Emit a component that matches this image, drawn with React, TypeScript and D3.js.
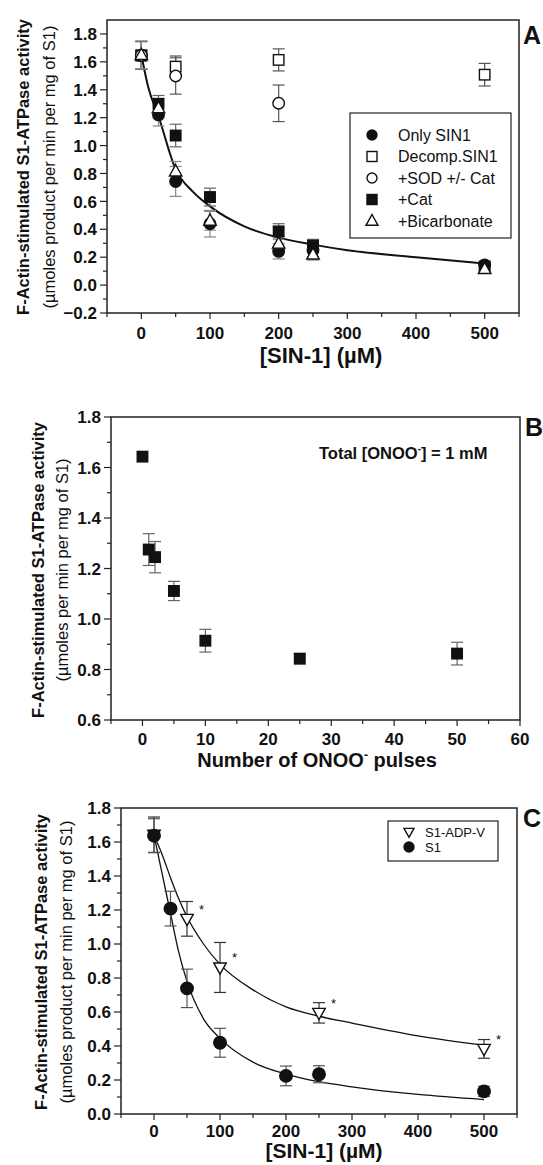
import React from "react";
import * as d3 from "d3";

// ---- panel A : SIN-1 dose response, five conditions ----
const doseA = [0, 25, 50, 100, 200, 250, 500];
const onlySin1 = [1.646, 1.22, 0.743, 0.44, 0.242, 0.25, 0.145];
const onlySin1Err = [0.1, 0.08, 0.107, 0.095, 0.055, 0.045, 0.03];
const decompDose = [0, 50, 200, 500];
const decompSin1 = [1.646, 1.566, 1.614, 1.508];
const decompErr = [0.1, 0.076, 0.079, 0.081];
const sodDose = [0, 50, 200];
const sodCat = [1.646, 1.499, 1.303];
const sodErr = [0.1, 0.13, 0.131];
const catOnly = [1.646, 1.299, 1.072, 0.631, 0.385, 0.283, 0.13];
const catErr = [0.1, 0.06, 0.081, 0.064, 0.055, 0.045, 0.03];
const bicarb = [1.649, 1.268, 0.814, 0.461, 0.297, 0.219, 0.115];
const bicarbErr = [0.1, 0.07, 0.072, 0.067, 0.05, 0.04, 0.03];
// fitted curve
const fitADose = [0, 10, 25, 50, 75, 100, 150, 200, 250, 300, 400, 500];
const fitA = [1.649, 1.42, 1.21, 0.83, 0.67, 0.564, 0.421, 0.34, 0.29, 0.25, 0.2, 0.155];
const legendA = ["Only SIN1", "Decomp.SIN1", "+SOD +/- Cat", "+Cat", "+Bicarbonate"];
const xTicksA = [0, 100, 200, 300, 400, 500];
const yTicksA = [-0.2, 0, 0.2, 0.4, 0.6, 0.8, 1.0, 1.2, 1.4, 1.6, 1.8];

// ---- panel B : number of ONOO- pulses ----
const pulses = [0, 1, 2, 5, 10, 25, 50];
const pulseAct = [1.643, 1.275, 1.245, 1.111, 0.914, 0.843, 0.863];
const pulseErr = [0, 0.063, 0.062, 0.038, 0.045, 0.02, 0.045];
const xTicksB = [0, 10, 20, 30, 40, 50, 60];
const yTicksB = [0.6, 0.8, 1.0, 1.2, 1.4, 1.6, 1.8];

// ---- panel C : S1 vs S1-ADP-V ----
const doseC = [0, 25, 50, 100, 200, 250, 500];
const s1 = [1.637, 1.208, 0.739, 0.419, 0.224, 0.234, 0.133];
const s1Err = [0.1, 0.102, 0.113, 0.085, 0.058, 0.05, 0.03];
const adpDose = [0, 50, 100, 250, 500];
const adpV = [1.643, 1.148, 0.862, 0.595, 0.383];
const adpErr = [0.104, 0.102, 0.147, 0.06, 0.055];
const fitCDose = [0, 12, 25, 37, 50, 75, 100, 150, 200, 250, 300, 400, 500];
const fitS1 = [1.64, 1.42, 1.18, 0.96, 0.78, 0.56, 0.445, 0.305, 0.235, 0.19, 0.16, 0.115, 0.085];
const fitAdp = [1.64, 1.53, 1.39, 1.27, 1.16, 1.0, 0.88, 0.73, 0.63, 0.575, 0.535, 0.46, 0.405];
const legendC = ["S1-ADP-V", "S1"];
const yTicksC = [0, 0.2, 0.4, 0.6, 0.8, 1.0, 1.2, 1.4, 1.6, 1.8];

const FONT = "'Liberation Sans', Arial, sans-serif";
const INK = "#111";

type Shape = "circle" | "square" | "triangle" | "tridown";

const Marker = ({ shape, x, y, s, fill }: { shape: Shape; x: number; y: number; s: number; fill: boolean }) => {
  const f = fill ? INK : "#fff";
  const st = { fill: f, stroke: INK, strokeWidth: 1.4 };
  if (shape === "circle") return <circle cx={x} cy={y} r={s / 2} {...st} />;
  if (shape === "square") return <rect x={x - s / 2} y={y - s / 2} width={s} height={s} {...st} />;
  const h = s * 0.9;
  if (shape === "triangle")
    return <path d={`M${x},${y - h * 0.6}L${x + s / 2},${y + h * 0.4}L${x - s / 2},${y + h * 0.4}Z`} {...st} />;
  return <path d={`M${x},${y + h * 0.6}L${x + s / 2},${y - h * 0.4}L${x - s / 2},${y - h * 0.4}Z`} {...st} />;
};

const ErrBar = ({ x, y0, y1, cap, color }: { x: number; y0: number; y1: number; cap: number; color: string }) => (
  <g stroke={color} strokeWidth={1.2}>
    <line x1={x} x2={x} y1={y0} y2={y1} />
    <line x1={x - cap} x2={x + cap} y1={y0} y2={y0} />
    <line x1={x - cap} x2={x + cap} y1={y1} y2={y1} />
  </g>
);

type Frame = { left: number; right: number; top: number; bottom: number };

// frame, ticks, tick labels
const Axes = ({
  fr, x, y, xTicks, xMinor, yTicks, yMinor, fmtX, fmtY, labDy,
}: {
  fr: Frame; x: d3.ScaleLinear<number, number>; y: d3.ScaleLinear<number, number>;
  xTicks: number[]; xMinor: number[]; yTicks: number[]; yMinor: number[];
  fmtX: (v: number) => string; fmtY: (v: number) => string; labDy: number;
}) => (
  <g fontFamily={FONT} fontWeight="bold" fontSize={17} fill={INK}>
    <rect x={fr.left} y={fr.top} width={fr.right - fr.left} height={fr.bottom - fr.top} fill="none" stroke="#222" strokeWidth={1.5} />
    {xMinor.map((v) => (
      <line key={"xm" + v} x1={x(v)} x2={x(v)} y1={fr.bottom} y2={fr.bottom + 4} stroke="#222" strokeWidth={1.2} />
    ))}
    {xTicks.map((v) => (
      <g key={"x" + v}>
        <line x1={x(v)} x2={x(v)} y1={fr.bottom} y2={fr.bottom + 6} stroke="#222" strokeWidth={1.2} />
        <text x={x(v)} y={fr.bottom + labDy} textAnchor="middle">{fmtX(v)}</text>
      </g>
    ))}
    {yMinor.map((v) => (
      <line key={"ym" + v} x1={fr.left - 4} x2={fr.left} y1={y(v)} y2={y(v)} stroke="#222" strokeWidth={1.2} />
    ))}
    {yTicks.map((v) => (
      <g key={"y" + v}>
        <line x1={fr.left - 7} x2={fr.left} y1={y(v)} y2={y(v)} stroke="#222" strokeWidth={1.2} />
        <text x={fr.left - 10} y={y(v)} dy="0.36em" textAnchor="end">{fmtY(v)}</text>
      </g>
    ))}
  </g>
);

const YTitle = ({ cx, cy, x2, sub }: { cx: number; cy: number; x2: number; sub: string }) => (
  <g fontFamily={FONT} fill={INK}>
    <text transform={`translate(${cx},${cy}) rotate(-90)`} textAnchor="middle" fontWeight="bold" fontSize={16.5}>
      F-Actin-stimulated S1-ATPase activity
    </text>
    <text transform={`translate(${x2},${cy}) rotate(-90)`} textAnchor="middle" fontSize={16.5}>
      {sub}
    </text>
  </g>
);

const fmt1 = d3.format(".1f");
const fmt0 = d3.format("d");

export default function App() {
  // ---------- panel A ----------
  const frA: Frame = { left: 107, right: 519, top: 20, bottom: 313 };
  const xA = d3.scaleLinear().domain([-50, 550]).range([frA.left, frA.right]);
  const yA = d3.scaleLinear().domain([-0.2, 1.9]).range([frA.bottom, frA.top]);
  const lineA = d3.line<number>().x((_, i) => xA(fitADose[i])).y((d) => yA(d)).curve(d3.curveMonotoneX);

  const seriesA = [
    { xs: doseA, ys: catOnly, es: catErr, shape: "square" as Shape, fill: true, s: 10.5, ec: "#666" },
    { xs: doseA, ys: onlySin1, es: onlySin1Err, shape: "circle" as Shape, fill: true, s: 11.5, ec: "#888" },
    { xs: decompDose, ys: decompSin1, es: decompErr, shape: "square" as Shape, fill: false, s: 10.5, ec: "#555" },
    { xs: sodDose, ys: sodCat, es: sodErr, shape: "circle" as Shape, fill: false, s: 11.5, ec: "#555" },
    { xs: doseA, ys: bicarb, es: bicarbErr, shape: "triangle" as Shape, fill: false, s: 12.5, ec: "#888" },
  ];
  const legShapesA: [Shape, boolean][] = [["circle", true], ["square", false], ["circle", false], ["square", true], ["triangle", false]];

  // ---------- panel B ----------
  const frB: Frame = { left: 111, right: 520, top: 417, bottom: 720 };
  const xB = d3.scaleLinear().domain([-5, 60]).range([frB.left, frB.right]);
  const yB = d3.scaleLinear().domain([0.6, 1.8]).range([frB.bottom, frB.top]);

  // ---------- panel C ----------
  const frC: Frame = { left: 121, right: 517, top: 808, bottom: 1114 };
  const xC = d3.scaleLinear().domain([-50, 550]).range([frC.left, frC.right]);
  const yC = d3.scaleLinear().domain([0, 1.8]).range([frC.bottom, frC.top]);
  const lineC = (vals: number[]) =>
    d3.line<number>().x((_, i) => xC(fitCDose[i])).y((d) => yC(d)).curve(d3.curveMonotoneX)(vals) || "";

  return (
    <svg width={543} height={1165} style={{ position: "absolute", left: 0, top: 0, background: "#fff" }}>
      {/* ===== A ===== */}
      <Axes fr={frA} x={xA} y={yA} xTicks={xTicksA} xMinor={d3.range(-50, 551, 100)}
        yTicks={yTicksA} yMinor={d3.range(-0.1, 1.85, 0.2)} fmtX={fmt0} fmtY={fmt1} labDy={26} />
      <path d={lineA(fitA) || ""} fill="none" stroke={INK} strokeWidth={2} />
      {seriesA.map((s, k) => (
        <g key={"ea" + k}>
          {s.xs.map((d, i) => s.es[i] > 0 && (
            <ErrBar key={i} x={xA(d)} y0={yA(s.ys[i] + s.es[i])} y1={yA(s.ys[i] - s.es[i])} cap={6} color={s.ec} />
          ))}
        </g>
      ))}
      {seriesA.map((s, k) => (
        <g key={"ma" + k}>
          {s.xs.map((d, i) => (
            <Marker key={i} shape={s.shape} x={xA(d)} y={yA(s.ys[i])} s={s.s} fill={s.fill} />
          ))}
        </g>
      ))}
      <rect x={350} y={113} width={161} height={125} fill="#fff" stroke="#222" strokeWidth={1.2} />
      {legendA.map((t, i) => (
        <g key={t}>
          <Marker shape={legShapesA[i][0]} x={372} y={135 + i * 21.5} s={legShapesA[i][0] === "triangle" ? 12 : 10} fill={legShapesA[i][1]} />
          <text x={398} y={135 + i * 21.5} dy="0.36em" fontFamily={FONT} fontSize={16} fill={INK}>{t}</text>
        </g>
      ))}
      <text x={523} y={44} fontFamily={FONT} fontWeight="bold" fontSize={25} fill={INK}>A</text>
      <YTitle cx={29} cy={167} x2={55} sub="(µmoles product per min per mg of S1)" />
      <text x={321} y={363} textAnchor="middle" fontFamily={FONT} fontWeight="bold" fontSize={22} fill={INK}>[SIN-1] (µM)</text>

      {/* ===== B ===== */}
      <Axes fr={frB} x={xB} y={yB} xTicks={xTicksB} xMinor={d3.range(-5, 60, 10)}
        yTicks={yTicksB} yMinor={d3.range(0.7, 1.75, 0.2)} fmtX={fmt0} fmtY={fmt1} labDy={25} />
      {pulses.map((d, i) => pulseErr[i] > 0 && (
        <ErrBar key={"eb" + i} x={xB(d)} y0={yB(pulseAct[i] + pulseErr[i])} y1={yB(pulseAct[i] - pulseErr[i])} cap={6} color="#666" />
      ))}
      {pulses.map((d, i) => (
        <Marker key={"mb" + i} shape="square" x={xB(d)} y={yB(pulseAct[i])} s={10.5} fill />
      ))}
      <text x={319} y={459} fontFamily={FONT} fontWeight="bold" fontSize={16.5} fill={INK}>
        Total [ONOO<tspan fontSize={10} dy={-7}>-</tspan><tspan dy={7}>] = 1 mM</tspan>
      </text>
      <text x={525} y={436} fontFamily={FONT} fontWeight="bold" fontSize={25} fill={INK}>B</text>
      <YTitle cx={44} cy={570} x2={68} sub="(µmoles per min per mg of S1)" />
      <text x={317} y={767} textAnchor="middle" fontFamily={FONT} fontWeight="bold" fontSize={20} fill={INK}>
        Number of ONOO<tspan fontSize={12} dy={-8}>-</tspan><tspan dy={8}> pulses</tspan>
      </text>

      {/* ===== C ===== */}
      <Axes fr={frC} x={xC} y={yC} xTicks={xTicksA} xMinor={d3.range(-50, 551, 100)}
        yTicks={yTicksC} yMinor={d3.range(0.1, 1.75, 0.2)} fmtX={fmt0} fmtY={fmt1} labDy={23} />
      <path d={lineC(fitS1)} fill="none" stroke={INK} strokeWidth={1.3} />
      <path d={lineC(fitAdp)} fill="none" stroke={INK} strokeWidth={1.3} />
      {adpDose.map((d, i) => (
        <ErrBar key={"ec" + i} x={xC(d)} y0={yC(adpV[i] + adpErr[i])} y1={yC(adpV[i] - adpErr[i])} cap={6} color="#333" />
      ))}
      {doseC.map((d, i) => (
        <ErrBar key={"es" + i} x={xC(d)} y0={yC(s1[i] + s1Err[i])} y1={yC(s1[i] - s1Err[i])} cap={6} color="#555" />
      ))}
      {adpDose.map((d, i) => (
        <Marker key={"mc" + i} shape="tridown" x={xC(d)} y={yC(adpV[i])} s={12.5} fill={false} />
      ))}
      {doseC.map((d, i) => (
        <Marker key={"ms" + i} shape="circle" x={xC(d)} y={yC(s1[i])} s={12.5} fill />
      ))}
      {adpDose.slice(1).map((d, i) => (
        <text key={"st" + i} x={xC(d) + 12} y={yC(adpV[i + 1]) - 5} fontFamily={FONT} fontSize={13} fill={INK}>*</text>
      ))}
      <rect x={388} y={821} width={110} height={40} fill="#fff" stroke="#222" strokeWidth={1.2} />
      <Marker shape="tridown" x={409} y={832} s={10} fill={false} />
      <Marker shape="circle" x={409} y={847} s={10} fill />
      {legendC.map((t, i) => (
        <text key={t} x={425} y={832 + i * 15} dy="0.36em" fontFamily={FONT} fontSize={13} fill={INK}>{t}</text>
      ))}
      <text x={523} y={827} fontFamily={FONT} fontWeight="bold" fontSize={25} fill={INK}>C</text>
      <YTitle cx={47} cy={962} x2={72} sub="(µmoles product per min per mg of S1)" />
      <text x={324} y={1158} textAnchor="middle" fontFamily={FONT} fontWeight="bold" fontSize={21} fill={INK}>[SIN-1] (µM)</text>
    </svg>
  );
}
